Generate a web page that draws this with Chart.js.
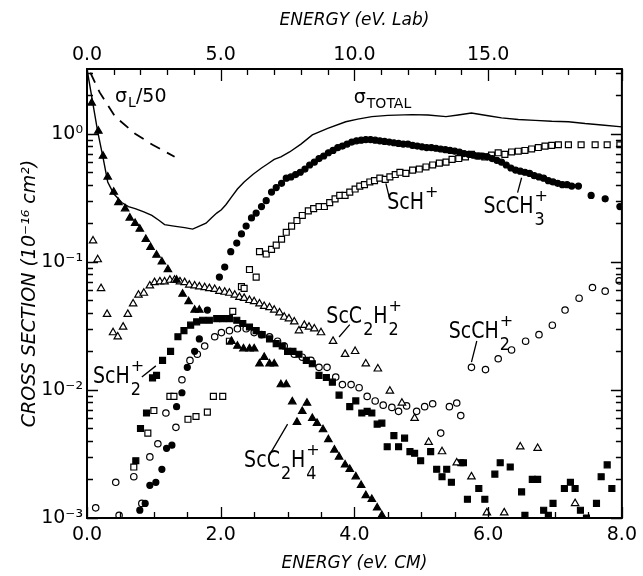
<!DOCTYPE html>
<html><head><meta charset="utf-8">
<script src="https://cdn.jsdelivr.net/npm/chart.js@4"></script>
<style>html,body{margin:0;padding:0;background:#fff}canvas{display:block}</style>
</head><body>
<canvas id="c" width="643" height="576"></canvas>
<script>
// ---------- DATA (energy in eV CM, cross section in 1e-16 cm^2) ----------
const totalE     = [0, 0.16, 0.24, 0.31, 0.4, 0.52, 0.62, 0.72, 0.85, 0.97, 1.08, 1.16, 1.3, 1.46, 1.58, 1.68, 1.78, 1.86, 1.94, 2.01, 2.08, 2.16, 2.25, 2.35, 2.48, 2.61, 2.7, 2.8, 2.9, 3.03, 3.2, 3.37, 3.6, 3.87, 4.05, 4.26, 4.5, 4.86, 5.1, 5.37, 5.55, 5.75, 6.0, 6.2, 6.45, 6.7, 6.95, 7.2, 7.45, 7.7, 8.0];
const totalSigma = [3.2, 1.04, 0.65, 0.42, 0.34, 0.29, 0.27, 0.26, 0.245, 0.23, 0.21, 0.195, 0.19, 0.185, 0.18, 0.19, 0.2, 0.22, 0.24, 0.255, 0.28, 0.32, 0.37, 0.42, 0.48, 0.54, 0.58, 0.63, 0.66, 0.72, 0.83, 0.98, 1.1, 1.24, 1.3, 1.36, 1.39, 1.41, 1.4, 1.36, 1.4, 1.45, 1.38, 1.33, 1.29, 1.27, 1.25, 1.24, 1.2, 1.17, 1.13];

const sigmaLE    = [0.05, 0.19, 0.42, 0.72, 0.98, 1.31];
const sigmaL50   = [3.0, 2.1, 1.36, 1.0, 0.82, 0.66];

const scC2H4E = [0.07, 0.17, 0.24, 0.31, 0.40, 0.47, 0.57, 0.64, 0.72, 0.79, 0.88, 0.95, 1.04, 1.12, 1.21, 1.34, 1.43, 1.52, 1.61, 1.68, 2.16, 2.25, 2.34, 2.43, 2.5, 2.58, 2.65, 2.73, 2.8, 2.9, 2.98, 3.07, 3.14, 3.22, 3.29, 3.37, 3.44, 3.53, 3.61, 3.7, 3.77, 3.86, 3.93, 4.02, 4.1, 4.17, 4.26, 4.34, 4.41];
const scC2H4S = [1.74, 1.05, 0.67, 0.46, 0.35, 0.29, 0.26, 0.22, 0.2, 0.18, 0.15, 0.13, 0.113, 0.1, 0.087, 0.072, 0.056, 0.049, 0.042, 0.042, 0.024, 0.022, 0.021, 0.021, 0.021, 0.016, 0.018, 0.016, 0.016, 0.011, 0.011, 0.0081, 0.0056, 0.0068, 0.0079, 0.006, 0.0055, 0.0049, 0.0041, 0.0034, 0.003, 0.0026, 0.0024, 0.0021, 0.0018, 0.0015, 0.0014, 0.0012, 0.00105];

const scC2H2E = [0.09, 0.16, 0.21, 0.3, 0.39, 0.46, 0.54, 0.61, 0.69, 0.77, 0.85, 0.94, 1.01, 1.09, 1.16, 1.24, 1.31, 1.39, 1.46, 1.53, 1.61, 1.68, 1.76, 1.83, 1.91, 1.98, 2.06, 2.13, 2.21, 2.28, 2.35, 2.43, 2.5, 2.58, 2.65, 2.73, 2.8, 2.88, 2.95, 3.02, 3.1, 3.17, 3.25, 3.32, 3.4, 3.5, 3.68, 3.86, 4.01, 4.17, 4.35, 4.53, 4.71, 4.9, 5.11, 5.31, 5.53, 5.75, 5.98, 6.24, 6.48, 6.74, 7.3];
const scC2H2S = [0.146, 0.104, 0.062, 0.039, 0.028, 0.026, 0.031, 0.039, 0.047, 0.055, 0.057, 0.065, 0.069, 0.07, 0.07, 0.072, 0.072, 0.07, 0.069, 0.066, 0.065, 0.064, 0.063, 0.062, 0.061, 0.059, 0.058, 0.057, 0.055, 0.053, 0.052, 0.05, 0.049, 0.047, 0.045, 0.044, 0.042, 0.04, 0.037, 0.036, 0.034, 0.029, 0.032, 0.031, 0.03, 0.028, 0.024, 0.019, 0.02, 0.016, 0.0146, 0.0098, 0.0079, 0.006, 0.0039, 0.0033, 0.0027, 0.0021, 0.0011, 0.0011, 0.0036, 0.0035, 0.0013];

const scCH3E = [0.79, 0.87, 0.94, 1.03, 1.12, 1.19, 1.27, 1.34, 1.42, 1.5, 1.61, 1.68, 1.8, 1.98, 2.06, 2.15, 2.24, 2.31, 2.38, 2.46, 2.53, 2.61, 2.68, 2.76, 2.83, 2.91, 2.98, 3.05, 3.12, 3.19, 3.26, 3.33, 3.40, 3.47, 3.54, 3.61, 3.68, 3.75, 3.82, 3.89, 3.96, 4.03, 4.10, 4.17, 4.24, 4.31, 4.38, 4.45, 4.52, 4.59, 4.66, 4.73, 4.80, 4.87, 4.94, 5.01, 5.08, 5.15, 5.22, 5.29, 5.36, 5.43, 5.50, 5.57, 5.64, 5.71, 5.78, 5.85, 5.92, 5.99, 6.06, 6.13, 6.2, 6.27, 6.34, 6.41, 6.48, 6.55, 6.62, 6.69, 6.76, 6.83, 6.9, 6.97, 7.04, 7.11, 7.18, 7.25, 7.35, 7.54, 7.75, 7.97];
const scCH3S = [0.00115, 0.0013, 0.0018, 0.0019, 0.0024, 0.0035, 0.0037, 0.0074, 0.0095, 0.015, 0.02, 0.025, 0.042, 0.076, 0.091, 0.12, 0.14, 0.165, 0.19, 0.22, 0.24, 0.27, 0.3, 0.35, 0.38, 0.41, 0.45, 0.46, 0.48, 0.5, 0.53, 0.57, 0.6, 0.64, 0.67, 0.71, 0.74, 0.78, 0.8, 0.83, 0.86, 0.88, 0.89, 0.9, 0.9, 0.89, 0.88, 0.87, 0.86, 0.85, 0.84, 0.83, 0.83, 0.81, 0.8, 0.79, 0.78, 0.78, 0.77, 0.76, 0.75, 0.74, 0.73, 0.72, 0.7, 0.69, 0.68, 0.67, 0.67, 0.66, 0.64, 0.62, 0.6, 0.57, 0.54, 0.52, 0.51, 0.5, 0.49, 0.47, 0.46, 0.45, 0.43, 0.42, 0.41, 0.4, 0.4, 0.39, 0.39, 0.33, 0.31, 0.27];

const scHE = [0.7, 0.91, 1.0, 1.24, 1.3, 1.51, 1.63, 1.8, 1.89, 2.03, 2.13, 2.18, 2.31, 2.35, 2.43, 2.53, 2.58, 2.68, 2.76, 2.83, 2.91, 2.98, 3.06, 3.14, 3.22, 3.31, 3.39, 3.47, 3.55, 3.63, 3.71, 3.78, 3.86, 3.93, 4.01, 4.08, 4.15, 4.23, 4.3, 4.38, 4.46, 4.53, 4.61, 4.68, 4.77, 4.87, 4.97, 5.07, 5.17, 5.27, 5.37, 5.46, 5.56, 5.66, 5.75, 5.85, 5.95, 6.05, 6.15, 6.25, 6.35, 6.45, 6.55, 6.65, 6.75, 6.85, 6.95, 7.05, 7.2, 7.39, 7.6, 7.78, 7.97];
const scHS = [0.0025, 0.0046, 0.0069, 0.0089, 0.0089, 0.0059, 0.0062, 0.0067, 0.0089, 0.0089, 0.024, 0.041, 0.064, 0.062, 0.087, 0.076, 0.12, 0.115, 0.125, 0.135, 0.15, 0.17, 0.19, 0.21, 0.23, 0.25, 0.26, 0.27, 0.27, 0.29, 0.31, 0.33, 0.33, 0.35, 0.37, 0.39, 0.4, 0.42, 0.43, 0.45, 0.44, 0.46, 0.48, 0.5, 0.49, 0.52, 0.53, 0.55, 0.57, 0.59, 0.6, 0.63, 0.64, 0.66, 0.69, 0.67, 0.66, 0.68, 0.71, 0.69, 0.72, 0.73, 0.74, 0.76, 0.78, 0.8, 0.81, 0.82, 0.82, 0.82, 0.82, 0.82, 0.82];

const scH2E = [0.73, 0.8, 0.89, 0.98, 1.04, 1.13, 1.25, 1.36, 1.45, 1.55, 1.64, 1.73, 1.83, 1.94, 2.03, 2.13, 2.24, 2.33, 2.43, 2.53, 2.62, 2.73, 2.83, 2.92, 3.0, 3.08, 3.17, 3.28, 3.37, 3.47, 3.58, 3.67, 3.77, 3.93, 4.02, 4.11, 4.19, 4.26, 4.34, 4.41, 4.49, 4.59, 4.66, 4.75, 4.83, 4.9, 4.99, 5.14, 5.23, 5.31, 5.38, 5.45, 5.59, 5.63, 5.69, 5.86, 5.95, 6.1, 6.18, 6.33, 6.5, 6.55, 6.66, 6.74, 6.83, 6.9, 6.97, 7.14, 7.23, 7.3, 7.38, 7.47, 7.62, 7.69, 7.78, 7.85];
const scH2S = [0.0028, 0.005, 0.0066, 0.0124, 0.013, 0.017, 0.02, 0.026, 0.029, 0.032, 0.034, 0.035, 0.035, 0.036, 0.036, 0.036, 0.035, 0.033, 0.031, 0.029, 0.027, 0.025, 0.023, 0.022, 0.02, 0.02, 0.019, 0.017, 0.016, 0.013, 0.0125, 0.0115, 0.0091, 0.0074, 0.0082, 0.0066, 0.0068, 0.0066, 0.0054, 0.0055, 0.0036, 0.0044, 0.0036, 0.0042, 0.0033, 0.0032, 0.0028, 0.0033, 0.0024, 0.0021, 0.0024, 0.0019, 0.0027, 0.0027, 0.0014, 0.0017, 0.0014, 0.0022, 0.0027, 0.0025, 0.0016, 0.00105, 0.002, 0.002, 0.00115, 0.00105, 0.0013, 0.0017, 0.0019, 0.0017, 0.00115, 0.001, 0.0013, 0.0021, 0.0026, 0.0017];

const scCH2E = [0.13, 0.43, 0.48, 0.7, 0.82, 0.94, 1.06, 1.18, 1.33, 1.42, 1.54, 1.65, 1.76, 1.91, 2.01, 2.13, 2.25, 2.38, 2.5, 2.61, 2.73, 2.85, 2.95, 3.1, 3.22, 3.35, 3.47, 3.59, 3.72, 3.82, 3.95, 4.07, 4.19, 4.31, 4.43, 4.56, 4.66, 4.78, 4.93, 5.05, 5.17, 5.29, 5.42, 5.53, 5.59, 5.75, 5.96, 6.15, 6.35, 6.56, 6.76, 6.96, 7.15, 7.36, 7.56, 7.75, 7.96];
const scCH2S = [0.0012, 0.0019, 0.00105, 0.0021, 0.0013, 0.003, 0.0038, 0.0066, 0.0051, 0.012, 0.017, 0.019, 0.022, 0.026, 0.028, 0.029, 0.03, 0.03, 0.028, 0.027, 0.026, 0.024, 0.022, 0.019, 0.018, 0.017, 0.015, 0.015, 0.0126, 0.011, 0.011, 0.0104, 0.0089, 0.0082, 0.0076, 0.0073, 0.0068, 0.0075, 0.0068, 0.0074, 0.0078, 0.0046, 0.0074, 0.0079, 0.0063, 0.015, 0.0144, 0.0175, 0.0205, 0.024, 0.027, 0.032, 0.042, 0.052, 0.063, 0.059, 0.071];

// ---------- AXES ----------
const cmTickValues  = [0, 2, 4, 6, 8];
const labTickValues = [0, 5, 10, 15];          // eV Lab (Lab = 2.5 x CM)
const labPerCM = 2.5;
const decadeValues  = [0.001, 0.01, 0.1, 1];
const decadeLabels  = ['10\u207B\u00B3', '10\u207B\u00B2', '10\u207B\u00B9', '10\u2070'];

// ---------- ANNOTATIONS (anchored in data coordinates) ----------
const labels = [
  {e: 0.42, s: 1.78,   segs: [['σ', 'L', null], ['/50', null, null]], small: true},
  {e: 3.99, s: 1.75,   segs: [['σ', 'TOTAL', null]], small: true},
  {e: 4.49, s: 0.26,   segs: [['ScH', null, '+']]},
  {e: 5.93, s: 0.241,  segs: [['ScCH', '3', '+']]},
  {e: 3.58, s: 0.0334, segs: [['ScC', '2', null], ['H', '2', '+']]},
  {e: 5.41, s: 0.0255, segs: [['ScCH', '2', '+']]},
  {e: 0.09, s: 0.01135,segs: [['ScH', '2', '+']]},
  {e: 2.35, s: 0.00251,segs: [['ScC', '2', null], ['H', '4', '+']]}
];
const pointers = [
  [4.47, 0.41, 4.52, 0.32],
  [6.5, 0.453, 6.44, 0.347],
  [3.93, 0.0323, 3.77, 0.0259],
  [5.83, 0.0241, 5.75, 0.0165],
  [0.82, 0.0126, 1.03, 0.0154],
  [2.73, 0.00311, 3.0, 0.0054]
];

const pts = (xs, ys) => xs.map((x, i) => ({x: x, y: ys[i]}));
const FONT = '"DejaVu Sans", sans-serif';

const framePlugin = {
  id: 'frameTicks',
  afterDatasetsDraw(chart) {
    const {ctx, chartArea: a, scales} = chart;
    const xs = scales.x, ys = scales.y;
    ctx.save();
    ctx.strokeStyle = '#000';
    ctx.lineWidth = 1.3;
    ctx.beginPath();
    for (let d = -3; d <= 0; d++) {
      for (let m = 1; m <= 9; m++) {
        const v = m * Math.pow(10, d);
        if (v > ys.max) break;
        const p = Math.round(ys.getPixelForValue(v)) + 0.5;
        const L = m === 1 ? 11 : 6;
        ctx.moveTo(a.left, p); ctx.lineTo(a.left + L, p);
        ctx.moveTo(a.right, p); ctx.lineTo(a.right - L, p);
      }
    }
    for (let k = 0; k <= 16; k++) {
      const e = k * 0.5;
      const p = Math.round(xs.getPixelForValue(e)) + 0.5;
      const L = (k % 4 === 0) ? 11 : 6;
      ctx.moveTo(p, a.bottom); ctx.lineTo(p, a.bottom - L);
    }
    for (let lab = 0; lab <= 20; lab++) {
      const p = Math.round(xs.getPixelForValue(lab / labPerCM)) + 0.5;
      const L = (lab % 5 === 0) ? 12 : 6;
      ctx.moveTo(p, a.top); ctx.lineTo(p, a.top + L);
    }
    ctx.stroke();
    ctx.lineWidth = 2;
    ctx.strokeRect(a.left, a.top, a.right - a.left, a.bottom - a.top);
    ctx.restore();
  }
};

function drawText(ctx, t, x, y, size, sy) {
  ctx.save();
  ctx.translate(x, y);
  ctx.scale(1, sy);
  ctx.font = size + 'px ' + FONT;
  ctx.fillText(t, 0, 0);
  const w = ctx.measureText(t).width;
  ctx.restore();
  return w;
}

const labelPlugin = {
  id: 'speciesLabels',
  afterDatasetsDraw(chart) {
    const {ctx, scales} = chart;
    const xs = scales.x, ys = scales.y;
    ctx.save();
    ctx.fillStyle = '#000';
    ctx.strokeStyle = '#000';
    ctx.lineWidth = 1.3;
    ctx.textBaseline = 'alphabetic';
    ctx.textAlign = 'left';
    for (const L of labels) {
      let cx = xs.getPixelForValue(L.e);
      const by = ys.getPixelForValue(L.s);
      for (const [t, sub, sup] of L.segs) {
        if (L.small) {
          cx += drawText(ctx, t, cx, by, 19, 1.0);
          let w = 0;
          if (sub) w = drawText(ctx, sub, cx + 1, by + 5, 14, 1.0) + 1;
          cx += w;
        } else {
          cx += drawText(ctx, t, cx, by, 19, 1.2);
          let w = 0;
          if (sub) w = Math.max(w, drawText(ctx, sub, cx + 1, by + 12, 16, 1.1) + 1);
          if (sup) w = Math.max(w, drawText(ctx, sup, cx + 1, by - 12, 16, 1.0) + 1);
          cx += w;
        }
      }
    }
    ctx.beginPath();
    for (const [e1, s1, e2, s2] of pointers) {
      ctx.moveTo(xs.getPixelForValue(e1), ys.getPixelForValue(s1));
      ctx.lineTo(xs.getPixelForValue(e2), ys.getPixelForValue(s2));
    }
    ctx.stroke();
    ctx.restore();
  }
};

const markerBase = {showLine: false, borderColor: '#000', borderWidth: 1.2, pointHoverRadius: 0};

new Chart(document.getElementById('c'), {
  type: 'scatter',
  data: {
    datasets: [
      {label: 'σ TOTAL', data: pts(totalE, totalSigma), showLine: true, borderColor: '#000', borderWidth: 1.4, pointRadius: 0, fill: false, tension: 0},
      {label: 'σL/50', data: pts(sigmaLE, sigmaL50), showLine: true, borderColor: '#000', borderWidth: 1.8, borderDash: [11, 8], pointRadius: 0, fill: false},
      Object.assign({label: 'ScC2H4+', data: pts(scC2H4E, scC2H4S), pointStyle: 'triangle', pointRadius: 4.3, backgroundColor: '#000'}, markerBase),
      Object.assign({label: 'ScC2H2+', data: pts(scC2H2E, scC2H2S), pointStyle: 'triangle', pointRadius: 4.3, backgroundColor: '#fff'}, markerBase),
      Object.assign({label: 'ScCH3+', data: pts(scCH3E, scCH3S), pointStyle: 'circle', pointRadius: 3, backgroundColor: '#000'}, markerBase),
      Object.assign({label: 'ScH+', data: pts(scHE, scHS), pointStyle: 'rect', pointRadius: 4.2, backgroundColor: '#fff'}, markerBase),
      Object.assign({label: 'ScH2+', data: pts(scH2E, scH2S), pointStyle: 'rect', pointRadius: 4.2, backgroundColor: '#000'}, markerBase),
      Object.assign({label: 'ScCH2+', data: pts(scCH2E, scCH2S), pointStyle: 'circle', pointRadius: 3.2, backgroundColor: '#fff'}, markerBase)
    ]
  },
  options: {
    responsive: false,
    animation: false,
    devicePixelRatio: 1,
    layout: {padding: {left: 0, right: 19, top: 0, bottom: 0}},
    plugins: {legend: {display: false}, tooltip: {enabled: false}},
    scales: {
      x: {
        type: 'linear', position: 'bottom', min: 0, max: 8,
        grid: {display: false, drawTicks: false}, border: {display: false},
        afterBuildTicks: s => { s.ticks = cmTickValues.map(v => ({value: v})); },
        afterFit: s => { s.height = 58; },
        ticks: {color: '#000', font: {family: FONT, size: 19}, padding: 6, maxRotation: 0, autoSkip: false,
                callback: v => Number(v).toFixed(1)},
        title: {display: true, text: 'ENERGY (eV. CM)', color: '#000',
                font: {family: FONT, size: 17, style: 'italic'}, padding: {top: 0, bottom: 2}}
      },
      x2: {
        type: 'linear', position: 'top', min: 0, max: 8,
        grid: {display: false, drawTicks: false}, border: {display: false},
        afterBuildTicks: s => { s.ticks = labTickValues.map(v => ({value: v / labPerCM})); },
        afterFit: s => { s.height = 69; },
        ticks: {color: '#000', font: {family: FONT, size: 19}, padding: 3, maxRotation: 0, autoSkip: false,
                callback: (v, i) => labTickValues[i].toFixed(1)},
        title: {display: true, text: 'ENERGY (eV. Lab)', color: '#000',
                font: {family: FONT, size: 17, style: 'italic'}, padding: {top: 10, bottom: 0}}
      },
      y: {
        type: 'logarithmic', position: 'left', min: 0.001, max: 3.2,
        grid: {display: false, drawTicks: false}, border: {display: false},
        afterBuildTicks: s => { s.ticks = decadeValues.map(v => ({value: v})); },
        afterFit: s => { s.width = 87; },
        ticks: {color: '#000', font: {family: FONT, size: 19}, padding: 4, autoSkip: false,
                callback: (v, i) => decadeLabels[i]},
        title: {display: true, text: 'CROSS SECTION (10\u207B\u00B9\u2076 cm\u00B2)', color: '#000',
                font: {family: FONT, size: 19, style: 'italic'}, padding: {top: 19, bottom: 0}}
      }
    }
  },
  plugins: [framePlugin, labelPlugin]
});
</script>
</body></html>
